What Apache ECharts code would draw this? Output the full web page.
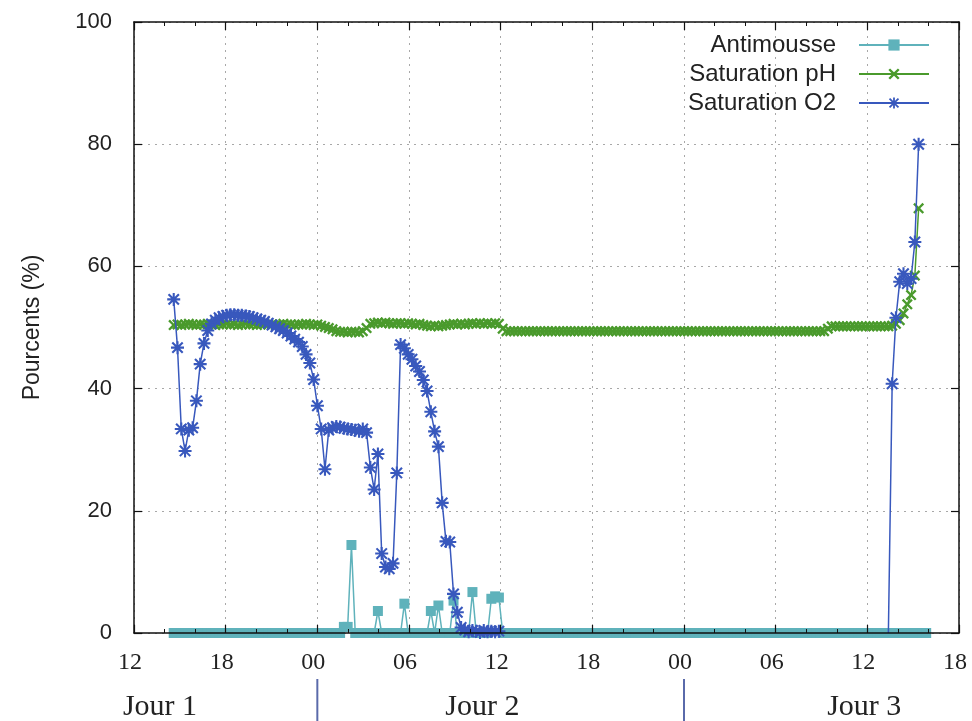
<!DOCTYPE html>
<html><head><meta charset="utf-8">
<script src="https://cdn.jsdelivr.net/npm/echarts@6/dist/echarts.min.js"></script>
<style>html,body{margin:0;padding:0;background:#fff}#c{width:972px;height:721px}</style>
</head><body><div id="c"></div>
<script>
// sampling clock (hours after 12:00 on day 1)
const startHour = 2.6;
const stepHours = 0.2475;

const xTickLabels = ['12','18','00','06','12','18','00','06','12','18'];
const dayLabels = ['Jour 1','Jour 2','Jour 3'];
const dayLabelHours = [1.7, 22.8, 47.8];
const dayBoundaryHours = [12, 36];
const seriesNames = ['Antimousse','Saturation pH','Saturation O2'];

const antimousse = [
  0,0,0,0,0,0,0,0,0,0,0,0,0,0,0,0,0,0,0,0,
  0,0,0,0,0,0,0,0,0,0,0,0,0,0,0,0,0,0,0,0,
  0,0,0,0,0,1.0,1.0,14.4,0,0,0,0,0,0,3.6,0,0,0,0,0,
  0,4.8,0,0,0,0,0,0,3.6,0,4.5,0,0,0,5.3,0,0,0,0,6.7,
  0,0,0,0,5.6,6.0,5.8,0,0,0,0,0,0,0,0,0,0,0,0,0,
  0,0,0,0,0,0,0,0,0,0,0,0,0,0,0,0,0,0,0,0,
  0,0,0,0,0,0,0,0,0,0,0,0,0,0,0,0,0,0,0,0,
  0,0,0,0,0,0,0,0,0,0,0,0,0,0,0,0,0,0,0,0,
  0,0,0,0,0,0,0,0,0,0,0,0,0,0,0,0,0,0,0,0,
  0,0,0,0,0,0,0,0,0,0,0,0,0,0,0,0,0,0,0,0
];

const saturationPH = [
  50.4,50.5,50.4,50.5,50.6,50.5,50.4,50.5,50.5,50.6,50.5,50.4,50.5,50.5,50.6,50.5,50.5,50.4,50.5,50.6,
  50.5,50.5,50.4,50.5,50.6,50.5,50.5,50.4,50.5,50.6,50.5,50.5,50.4,50.5,50.5,50.6,50.5,50.4,50.5,50.3,
  50.1,49.9,49.7,49.4,49.3,49.3,49.2,49.3,49.3,49.2,49.4,49.9,50.6,50.7,50.8,50.7,50.8,50.7,50.6,50.7,
  50.7,50.6,50.7,50.6,50.5,50.6,50.4,50.3,50.2,50.3,50.2,50.3,50.4,50.5,50.6,50.5,50.6,50.5,50.6,50.7,
  50.6,50.7,50.6,50.7,50.6,50.7,50.6,49.8,49.4,49.4,49.4,49.4,49.4,49.4,49.4,49.4,49.4,49.4,49.4,49.4,
  49.4,49.4,49.4,49.4,49.4,49.4,49.4,49.4,49.4,49.4,49.4,49.4,49.4,49.4,49.4,49.4,49.4,49.4,49.4,49.4,
  49.4,49.4,49.4,49.4,49.4,49.4,49.4,49.4,49.4,49.4,49.4,49.4,49.4,49.4,49.4,49.4,49.4,49.4,49.4,49.4,
  49.4,49.4,49.4,49.4,49.4,49.4,49.4,49.4,49.4,49.4,49.4,49.4,49.4,49.4,49.4,49.4,49.4,49.4,49.4,49.4,
  49.4,49.4,49.4,49.4,49.4,49.4,49.4,49.4,49.4,49.4,49.4,49.4,49.4,49.8,50.2,50.2,50.2,50.2,50.2,50.2,
  50.2,50.2,50.2,50.2,50.2,50.2,50.2,50.2,50.2,50.2,50.3,50.6,51.2,52.3,53.8,55.3,58.5,69.5,null,null
];

const saturationO2 = [
  54.6,46.7,33.4,29.8,33.2,33.6,38.0,44.0,47.4,49.5,50.6,51.2,51.6,51.8,52.0,52.1,52.1,52.0,52.0,51.9,
  51.8,51.6,51.4,51.2,51.0,50.7,50.4,50.1,49.8,49.5,49.1,48.6,48.1,47.6,46.9,45.6,44.2,41.5,37.2,33.4,
  26.8,33.2,33.6,33.8,33.7,33.5,33.4,33.3,33.2,33.0,33.4,32.8,27.1,23.5,29.3,13.0,10.8,10.5,11.4,26.2,
  47.2,46.6,45.6,44.8,43.7,42.8,41.4,39.6,36.2,33.0,30.5,21.3,15.0,14.9,6.4,3.4,0.9,0.5,0.2,0.4,
  0.3,0.1,0.4,0.2,0.3,0.2,0.3,null,null,null,null,null,null,null,null,null,null,null,null,null,
  null,null,null,null,null,null,null,null,null,null,null,null,null,null,null,null,null,null,null,null,
  null,null,null,null,null,null,null,null,null,null,null,null,null,null,null,null,null,null,null,null,
  null,null,null,null,null,null,null,null,null,null,null,null,null,null,null,null,null,null,null,null,
  null,null,null,null,null,null,null,null,null,null,null,null,null,null,null,null,null,null,null,null,
  null,null,null,null,null,null,null,null,null,0,40.8,51.6,57.5,58.8,57.2,58.0,64.0,80.0,null,null
];

function toPoints(arr) {
  return arr.map((v, i) => [+(startHour + i * stepHours).toFixed(4), v === null ? '-' : v]);
}

const teal = '#5fb2bb', green = '#4a9a2c', blue = '#3858bd';
const ink = '#111', textInk = '#222';
const crossPath = 'path://M0,1.5L1.5,0L5,3.5L8.5,0L10,1.5L6.5,5L10,8.5L8.5,10L5,6.5L1.5,10L0,8.5L3.5,5Z';
const starPath = 'path://M0,4.2L10,4.2L10,5.8L0,5.8Z M4.2,0L5.8,0L5.8,10L4.2,10Z M1.57,0.43L9.57,8.43L8.43,9.57L0.43,1.57Z M8.43,0.43L9.57,1.57L1.57,9.57L0.43,8.43Z';

// O2 samples sitting exactly on the baseline are drawn without a marker (hidden in the reference)
const o2Points = toPoints(saturationO2).map(p => (p[1] === 0 ? { value: p, symbol: 'none' } : p));

const gridLine = { show: true, lineStyle: { type: [2, 5], color: '#a8a8a8', width: 1 } };
const axisLineStyle = { show: true, onZero: false, lineStyle: { color: ink, width: 1.5 } };

const option = {
  animation: false,
  backgroundColor: '#fff',
  grid: { left: 134, right: 13, top: 22, bottom: 88 },
  legend: {
    data: seriesNames, orient: 'vertical', right: 42, top: 33, align: 'right', padding: 0,
    itemWidth: 70, itemHeight: 14, itemGap: 5, selectedMode: false,
    textStyle: { fontFamily: 'Liberation Sans', fontSize: 24, color: textInk, padding: [0, 18, 0, 0] }
  },
  xAxis: [
    {
      type: 'value', min: 0, max: 54, interval: 6, position: 'bottom', z: 5,
      axisLine: axisLineStyle,
      axisTick: { show: true, inside: true, length: 8, lineStyle: { color: ink, width: 1.2 } },
      minorTick: { show: true, splitNumber: 3, length: 4, lineStyle: { color: ink, width: 1 } },
      axisLabel: {
        showMinLabel: true, showMaxLabel: true, margin: 18, padding: [0, 8, 0, 0],
        fontFamily: 'Liberation Serif', fontSize: 24, color: textInk,
        formatter: v => xTickLabels[Math.round(v / 6)]
      },
      splitLine: { show: false }
    },
    {
      type: 'value', min: 0, max: 54, interval: 6, position: 'top',
      axisLine: axisLineStyle,
      axisTick: { show: true, inside: true, length: 8, lineStyle: { color: ink, width: 1.2 } },
      minorTick: { show: true, splitNumber: 3, length: 4, lineStyle: { color: ink, width: 1 } },
      axisLabel: { show: false },
      splitLine: gridLine
    }
  ],
  yAxis: [
    {
      type: 'value', min: 0, max: 100, interval: 20, position: 'left',
      axisLine: axisLineStyle,
      axisTick: { show: true, inside: true, length: 8, lineStyle: { color: ink, width: 1.2 } },
      axisLabel: { fontFamily: 'Liberation Sans', fontSize: 22, color: textInk, margin: 22 },
      splitLine: gridLine,
      name: 'Pourcents (%)', nameLocation: 'middle', nameGap: 90,
      nameTextStyle: { fontFamily: 'Liberation Sans', fontSize: 23, color: textInk }
    },
    {
      type: 'value', min: 0, max: 100, interval: 20, position: 'right',
      axisLine: axisLineStyle,
      axisTick: { show: true, inside: true, length: 8, lineStyle: { color: ink, width: 1.2 } },
      axisLabel: { show: false },
      splitLine: { show: false }
    }
  ],
  series: [
    {
      name: seriesNames[0], type: 'line', data: toPoints(antimousse),
      symbol: 'rect', symbolSize: 10, showAllSymbol: true,
      lineStyle: { color: teal, width: 1.5 }, itemStyle: { color: teal },
      emphasis: { disabled: true }, z: 2
    },
    {
      name: seriesNames[1], type: 'line', data: toPoints(saturationPH),
      symbol: crossPath, symbolSize: 11, showAllSymbol: true,
      lineStyle: { color: green, width: 1.5 }, itemStyle: { color: green },
      emphasis: { disabled: true }, z: 3
    },
    {
      name: seriesNames[2], type: 'line', data: o2Points,
      symbol: starPath, symbolSize: 13, showAllSymbol: true,
      lineStyle: { color: blue, width: 1.5 }, itemStyle: { color: blue },
      emphasis: { disabled: true }, z: 4
    }
  ]
};

const chart = echarts.init(document.getElementById('c'), null, { renderer: 'canvas' });
chart.setOption(option);

const y0 = chart.convertToPixel({ yAxisIndex: 0 }, 0);
const extras = [];
dayBoundaryHours.forEach(h => {
  const x = chart.convertToPixel({ xAxisIndex: 0 }, h);
  extras.push({ type: 'line', silent: true, shape: { x1: x, y1: y0 + 46, x2: x, y2: y0 + 90 },
    style: { stroke: '#5a6aaa', lineWidth: 2 } });
});
dayLabels.forEach((t, k) => {
  const x = chart.convertToPixel({ xAxisIndex: 0 }, dayLabelHours[k]);
  extras.push({ type: 'text', silent: true, x: x, y: y0 + 74,
    style: { text: t, font: '30px "Liberation Serif"', fill: textInk, align: 'center', verticalAlign: 'middle' } });
});
chart.setOption({ graphic: extras });
</script>
</body></html>
